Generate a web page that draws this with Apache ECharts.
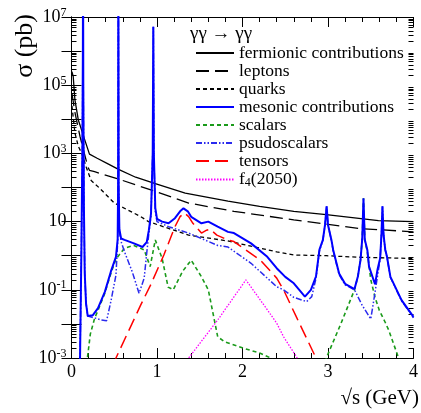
<!DOCTYPE html>
<html>
<head>
<meta charset="utf-8">
<title>gamma gamma -> gamma gamma</title>
<script src="https://cdn.jsdelivr.net/npm/echarts@6/dist/echarts.min.js"></script>
</head>
<body style="margin:0;background:#fff">
<div id="chart" style="width:421px;height:413px"></div>
<script>
// sqrt(s) in GeV, sigma in pb
const fermionic = [[0.005, 2.5e5], [0.02, 1.8e5], [0.04, 3.7e4], [0.08, 9.5e3], [0.155, 2.5e3], [0.21, 9.5e2],
    [0.3, 7.2e2], [0.41, 5.2e2], [0.55, 3.4e2], [0.75, 2.0e2], [0.98, 1.3e2], [1.33, 68], [1.83, 40], [2.2, 28],
    [2.6, 20], [2.98, 16], [3.59, 10.7], [4.0, 10]];
const leptons = [[0.005, 5.8e4], [0.04, 1.6e4], [0.1, 3.1e3], [0.19, 4.1e2], [0.21, 3.2e2], [0.27, 2.9e2],
    [0.54, 1.8e2], [0.96, 80], [1.37, 35], [1.9, 20], [2.6, 11.2], [3.36, 6.3], [4.0, 5.0]];
const quarks = [[0.005, 2.5e4], [0.04, 4.0e3], [0.08, 1.6e3], [0.12, 1.0e3], [0.175, 3.8e2], [0.23, 1.6e2],
    [0.33, 95], [0.5, 35], [0.81, 14], [0.9, 10], [1.135, 6.3], [1.37, 4.0], [1.83, 2.7], [2.1, 1.9], [2.29, 1.5],
    [2.4, 1.3], [2.6, 1.05], [2.98, 1.0], [3.36, 0.9], [4.0, 0.83]];
const mesonic = [[0.09, 1e-4], [0.1, 1e-3], [0.115, 1], [0.127, 1e3], [0.133, 1e6], [0.135, 1e9], [0.138, 1e5],
    [0.145, 30], [0.155, 0.3], [0.17, 0.04], [0.19, 0.017], [0.21, 0.016], [0.25, 0.018], [0.31, 0.029],
    [0.39, 0.087], [0.46, 0.34], [0.52, 0.93], [0.54, 3], [0.545, 1e2], [0.548, 1e9], [0.552, 1e2], [0.56, 6],
    [0.58, 3.2], [0.62, 2.9], [0.73, 2.3], [0.83, 1.8], [0.88, 2.5], [0.905, 5.6], [0.93, 17], [0.95, 1e3],
    [0.957, 5.2e6], [0.963, 1e3], [0.98, 25], [1.0, 12], [1.06, 10], [1.135, 8.9], [1.21, 12.6], [1.27, 20],
    [1.31, 24.5], [1.36, 20], [1.4, 13.8], [1.52, 8.9], [1.6, 10], [1.71, 7.1], [1.83, 5.0], [1.9, 4.6],
    [2.1, 2.3], [2.29, 0.93], [2.4, 0.43], [2.5, 0.24], [2.6, 0.155], [2.73, 0.063], [2.8, 0.1], [2.86, 0.25],
    [2.9, 1.5], [2.94, 2.9], [2.965, 8], [2.984, 28], [3.0, 8], [3.04, 2.9], [3.06, 1.5], [3.13, 0.3],
    [3.2, 0.15], [3.31, 0.105], [3.35, 0.25], [3.38, 0.74], [3.4, 3], [3.415, 48], [3.43, 3], [3.46, 1.48],
    [3.48, 0.48], [3.55, 0.145], [3.58, 0.4], [3.61, 0.85], [3.625, 4], [3.637, 28], [3.65, 4], [3.67, 1.5],
    [3.69, 0.93], [3.73, 0.24], [3.86, 0.05], [4.0, 0.016]];
const scalars = [[0.16, 1e-4], [0.186, 1e-3], [0.22, 5e-3], [0.27, 0.0145], [0.31, 0.025], [0.35, 0.045],
    [0.39, 0.08], [0.46, 0.3], [0.52, 0.8], [0.62, 1.66], [0.73, 2.0], [0.85, 1.48], [0.92, 0.48], [0.98, 2.9],
    [1.06, 0.83], [1.13, 0.12], [1.19, 0.1], [1.3, 0.35], [1.4, 0.74], [1.52, 0.24], [1.6, 0.1], [1.71, 0.0042],
    [1.79, 0.003], [2.02, 0.0019], [2.2, 0.0014], [2.33, 0.001], [2.4, 6e-4], [2.93, 1e-4], [2.98, 1e-3],
    [3.15, 0.01], [3.31, 0.1], [3.35, 0.25], [3.38, 0.74], [3.4, 3], [3.415, 48], [3.43, 3], [3.46, 1.3],
    [3.5, 0.2], [3.55, 0.06], [3.6, 0.025], [3.67, 0.011], [3.71, 0.0066], [3.82, 0.0011], [3.86, 5e-4]];
const psudoscalars = [[0.09, 1e-4], [0.1, 1e-3], [0.115, 1], [0.127, 1e3], [0.133, 1e6], [0.135, 1e9],
    [0.138, 1e5], [0.145, 30], [0.155, 0.3], [0.17, 0.04], [0.19, 0.017], [0.21, 0.016], [0.29, 0.0145],
    [0.35, 0.013], [0.41, 0.0123], [0.46, 0.045], [0.52, 0.27], [0.54, 2.5], [0.545, 1e2], [0.548, 1e9],
    [0.552, 1e2], [0.56, 5], [0.58, 2.6], [0.62, 1.3], [0.71, 0.34], [0.79, 0.079], [0.85, 0.22], [0.88, 1.2],
    [0.905, 4.5], [0.93, 15], [0.95, 1e3], [0.957, 5.2e6], [0.963, 1e3], [0.98, 20], [1.0, 10], [1.135, 7.1],
    [1.37, 4.6], [1.71, 2.0], [1.83, 1.8], [2.1, 0.6], [2.4, 0.123], [2.48, 0.1], [2.6, 0.06], [2.75, 0.045],
    [2.81, 0.063], [2.86, 0.22], [2.9, 1.4], [2.94, 2.8], [2.965, 8], [2.984, 28], [3.0, 8], [3.04, 2.8],
    [3.06, 1.4], [3.13, 0.28], [3.2, 0.14], [3.31, 0.1], [3.4, 0.035], [3.5, 0.014], [3.53, 0.04], [3.56, 0.123],
    [3.59, 0.38], [3.61, 0.8], [3.625, 4], [3.637, 28], [3.65, 4], [3.67, 1.45], [3.69, 0.9], [3.73, 0.23],
    [3.86, 0.048], [4.0, 0.015]];
const tensors = [[0.5, 6e-4], [0.52, 1e-3], [0.81, 0.036], [0.92, 0.13], [1.08, 1.05], [1.21, 7.1], [1.27, 14],
    [1.32, 18], [1.37, 14], [1.42, 8.9], [1.52, 4.6], [1.58, 5.6], [1.62, 6.0], [1.7, 4.0], [1.83, 2.9],
    [1.9, 2.6], [2.21, 0.74], [2.4, 0.22], [2.48, 0.1], [2.63, 0.016], [2.86, 0.001], [2.9, 5e-4]];
const f4 = [[1.3, 4e-4], [1.37, 1e-3], [1.71, 0.013], [1.9, 0.062], [2.04, 0.195], [2.29, 0.026], [2.4, 0.0105],
    [2.48, 0.0042], [2.63, 0.0011], [2.7, 5e-4]];

const names = ['fermionic contributions', 'leptons', 'quarks', 'mesonic contributions', 'scalars',
    'psudoscalars', 'tensors', 'f4(2050)'];
const decades = [1e-3, 1e-2, 1e-1, 1, 10, 1e2, 1e3, 1e4, 1e5, 1e6];
const subSteps = [2, 3, 4, 5, 6, 7, 8, 9];

const FONT = 'Liberation Serif';

// minor log ticks (2..9 per decade), drawn on both vertical edges
let minorTicks = [];
decades.forEach(d => subSteps.forEach(m => minorTicks.push([0, m * d])));

function line(name, data, color, width, type, z) {
    return {
        name: name, type: 'line', data: data, symbol: 'none', z: z || 2,
        lineStyle: {color: color, width: width, type: type},
        itemStyle: {color: color}
    };
}

function logAxis(pos, labels) {
    return {
        type: 'log', logBase: 10, min: 1e-3, max: 1e7, interval: 1, position: pos,
        axisLine: {lineStyle: {color: '#000', width: 1}},
        axisTick: {inside: true, length: 10, lineStyle: {color: '#000'}},
        axisLabel: {
            show: labels, fontFamily: FONT, fontSize: 18, color: '#000', margin: 5,
            formatter: v => {
                const e = Math.round(Math.log10(v));
                if (e % 2 === 0) return '';
                if (e === 1) return '{b|10}';
                return '{b|10}{sup|' + e + '}';
            },
            rich: {
                b: {fontFamily: FONT, fontSize: 18, color: '#000'},
                sup: {fontFamily: FONT, fontSize: 12, color: '#000', padding: [0, 0, 9, 0]}
            }
        },
        splitLine: {show: false}
    };
}

function linAxis(pos, labels) {
    return {
        type: 'value', min: 0, max: 4, interval: 1, position: pos,
        axisLine: {lineStyle: {color: '#000', width: 1}},
        axisTick: {inside: true, length: 10, lineStyle: {color: '#000'}},
        minorTick: {show: true, splitNumber: 5, length: 5, lineStyle: {color: '#000'}},
        axisLabel: {show: labels, fontFamily: FONT, fontSize: 18, color: '#000', margin: 5},
        splitLine: {show: false}
    };
}

const chart = echarts.init(document.getElementById('chart'), null, {renderer: 'canvas'});

chart.setOption({
    animation: false,
    backgroundColor: '#fff',
    grid: {left: 71.5, top: 17, width: 347, height: 341, containLabel: false},
    title: {
        text: 'γγ → γγ', left: 190, top: 25, padding: 0,
        textStyle: {fontFamily: FONT, fontWeight: 'normal', fontSize: 19, color: '#000'}
    },
    legend: {
        data: names, orient: 'vertical', left: 195, top: 44, padding: 0,
        itemWidth: 38, itemHeight: 14, itemGap: 0,
        itemStyle: {opacity: 0},
        textStyle: {
            fontFamily: FONT, fontSize: 17.5, lineHeight: 17.8, color: '#000',
            rich: {
                n: {fontFamily: FONT, fontSize: 17.5, lineHeight: 17.8, color: '#000'},
                sub: {fontFamily: FONT, fontSize: 12, lineHeight: 17.8, color: '#000', padding: [7, 0, 0, 0]},
                p: {fontFamily: FONT, fontSize: 17.5, lineHeight: 17.8, color: '#000'}
            }
        },
        formatter: n => n === 'f4(2050)' ? '{n|f}{sub|4}{p|(2050)}' : '{n|' + n + '}'
    },
    xAxis: [linAxis('bottom', true), linAxis('top', false)],
    yAxis: [logAxis('left', true), logAxis('right', false)],
    graphic: [{
        type: 'text', left: 12, top: 14, rotation: Math.PI / 2,
        style: {text: 'σ (pb)', fontFamily: FONT, fontSize: 26, fill: '#000'}
    }, {
        type: 'text', right: 2, top: 388,
        style: {text: '√s (GeV)', fontFamily: FONT, fontSize: 21, fill: '#000'}
    }],
    series: [
        line(names[0], fermionic, '#000', 1.3, 'solid'),
        line(names[1], leptons, '#000', 1.3, [13, 6]),
        line(names[2], quarks, '#000', 1.3, [4, 3]),
        line(names[3], mesonic, '#0000ff', 2, 'solid', 5),
        line(names[4], scalars, '#1a9a1a', 1.6, [4, 3]),
        line(names[5], psudoscalars, '#2a2aee', 1.5, [6, 2, 1.5, 2, 1.5, 2], 4),
        line(names[6], tensors, '#ff0000', 1.5, [13, 6]),
        line(names[7], f4, '#ff00ff', 1.3, [1.5, 1.5]),
        {
            name: 'minor ticks', type: 'custom', data: minorTicks, silent: true, z: 1,
            renderItem: function (params, api) {
                const cs = params.coordSys;
                const y = Math.round(api.coord([0, api.value(1)])[1]) + 0.5;
                const st = {stroke: '#000', lineWidth: 1};
                return {
                    type: 'group', children: [
                        {type: 'line', shape: {x1: cs.x, y1: y, x2: cs.x + 5, y2: y}, style: st},
                        {type: 'line', shape: {x1: cs.x + cs.width, y1: y, x2: cs.x + cs.width - 5, y2: y}, style: st}
                    ]
                };
            }
        }
    ]
});
</script>
</body>
</html>
